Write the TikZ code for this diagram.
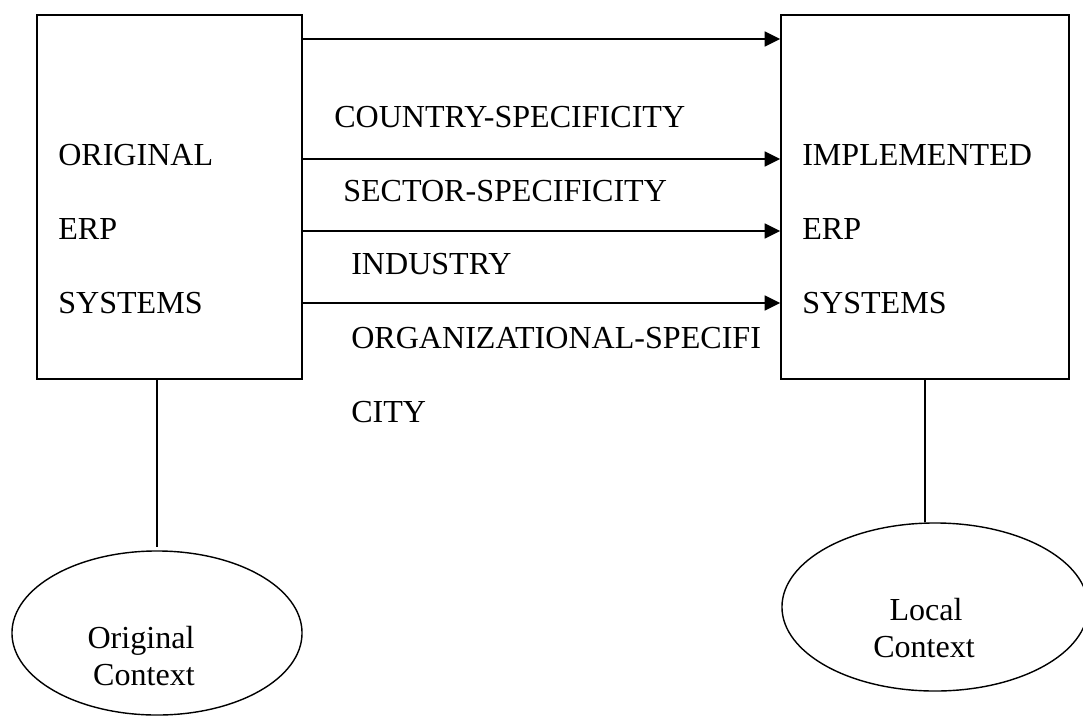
\documentclass[tikz,border=0pt]{standalone}
\usepackage{fontspec}
\setmainfont{Liberation Serif}
\usetikzlibrary{arrows.meta,shapes.geometric}

\begin{document}
\begin{tikzpicture}[x=0.025cm, y=-0.025cm,
    box/.style={draw, line width=1pt, minimum height=9.1cm, inner sep=0pt},
    ctx/.style={draw, ellipse, line width=1pt, inner sep=0pt},
    word/.style={anchor=base west, inner sep=0pt, font=\fontsize{22.8}{26}\selectfont},
    ctxword/.style={anchor=base, inner sep=0pt, font=\fontsize{22.8}{26}\selectfont},
    flow/.style={line width=1.45pt, -{Triangle[length=0.39cm, width=0.37cm]}}]
    \useasboundingbox (0,0) rectangle (1083,716);

    % 1. The two system boxes
    \node[box, minimum width=6.625cm] (orig) at (169.5,197) {};
    \node[box, minimum width=7.2cm] (impl) at (925,197) {};
    \foreach \t/\y in {ORIGINAL/165, ERP/239, SYSTEMS/313} {
        \node[word] at (58,\y) {\t};
    }
    \foreach \t/\y in {IMPLEMENTED/165, ERP/239, SYSTEMS/313} {
        \node[word] at (802,\y) {\t};
    }

    % 2. Arrows between the boxes
    \foreach \y in {39,159,231,303} {
        \draw[flow] (orig.east |- 0,\y) -- (impl.west |- 0,\y);
    }
    \node[word] (country) at (334,127) {COUNTRY-SPECIFICITY};
    \node[word] (sector) at (343,201) {SECTOR-SPECIFICITY};
    \node[word] (industry) at (351,274) {INDUSTRY};
    \node[word] (organ) at (351,348) {ORGANIZATIONAL-SPECIFI};
    \node[word] (organb) at (351,422) {CITY};

    % 3. Contexts below the boxes
    \node[ctx, minimum width=7.25cm, minimum height=4.1cm] (origctx) at (157,633) {};
    \node[ctxword] (origa) at (141,648) {Original};
    \node[ctxword] (origb) at (144,685) {Context};
    \draw[line width=0.9pt, shorten >=0.075cm] (origctx.north |- orig.south) -- (origctx.north);

    \node[ctx, minimum width=7.65cm, minimum height=4.2cm] (locctx) at (935,607) {};
    \node[ctxword] (loca) at (926,620) {Local};
    \node[ctxword] (locb) at (924,657) {Context};
    \draw[line width=0.9pt] (impl.south) -- (impl.south |- locctx.north);
\end{tikzpicture}
\end{document}
